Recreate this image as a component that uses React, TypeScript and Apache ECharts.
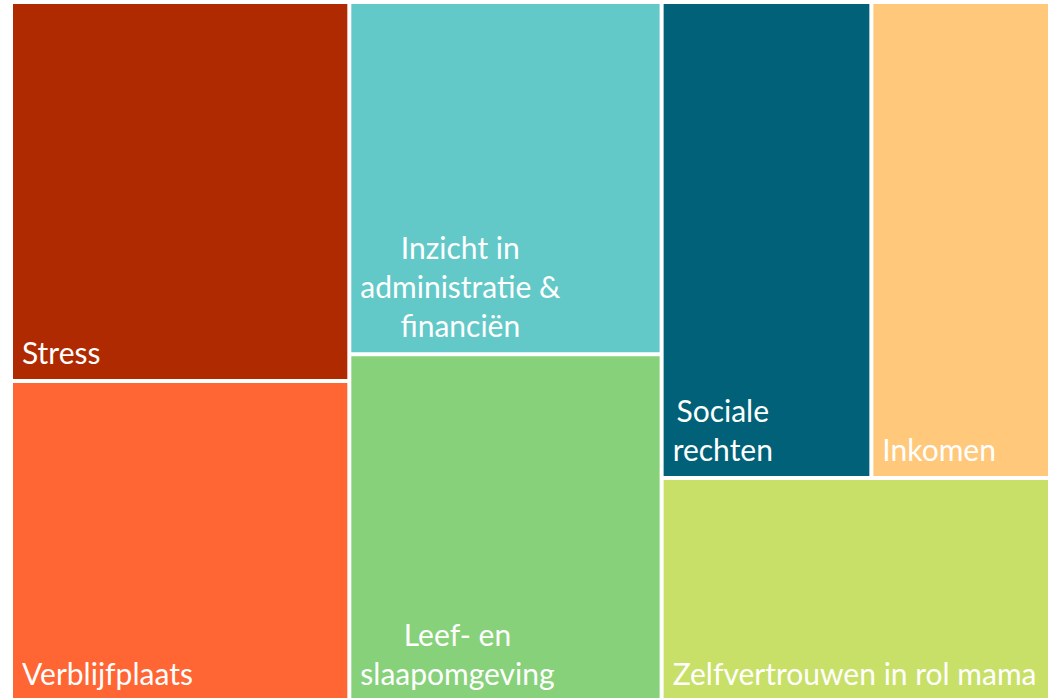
import React, { useEffect, useRef } from "react";
import * as echarts from "echarts";

const names = [
  "Stress",
  "Verblijfplaats",
  "Inzicht in administratie & financiën",
  "Leef- en slaapomgeving",
  "Sociale rechten",
  "Inkomen",
  "Zelfvertrouwen in rol mama",
];
const values = [17.6, 14.9, 15.1, 14.9, 13.7, 11.8, 12.0];
const colors = ["#AF2A00", "#FF6633", "#62C9C8", "#87D17A", "#006178", "#FFC87A", "#C8E068"];
const labelLines = [
  ["Stress"],
  ["Verblijfplaats"],
  ["Inzicht in", "administratie &", "financiën"],
  ["Leef- en", "slaapomgeving"],
  ["Sociale", "rechten"],
  ["Inkomen"],
  ["Zelfvertrouwen in rol mama"],
];

const FONT = "Lato";
const FONT_SIZE = 30;
const LINE_H = 39;

export default function App() {
  const ref = useRef<HTMLDivElement>(null);
  useEffect(() => {
    if (!ref.current) return;
    const chart = echarts.init(ref.current, null, { renderer: "svg" });

    const canvas = document.createElement("canvas");
    const ctx = canvas.getContext("2d") as CanvasRenderingContext2D;
    ctx.font = `${FONT_SIZE}px ${FONT}`;
    const rich: Record<string, any> = {};
    const labelText: Record<string, string> = {};
    labelLines.forEach((lines, i) => {
      const widths = lines.map((l) => ctx.measureText(l).width);
      const maxW = Math.max(...widths);
      labelText[names[i]] = lines
        .map((l, j) => {
          const key = `t${i}x${j}`;
          rich[key] = {
            fontFamily: FONT,
            fontSize: FONT_SIZE,
            lineHeight: LINE_H,
            color: "#fff",
            padding: [0, 0, 0, (maxW - widths[j]) / 2],
          };
          return `{${key}|${l}}`;
        })
        .join("\n");
    });

    chart.setOption({
      animation: false,
      series: [
        {
          type: "treemap",
          left: 11,
          top: 2,
          width: 1041,
          height: 700,
          squareRatio: 1.335,
          sort: false,
          roam: false,
          nodeClick: false,
          silent: true,
          breadcrumb: { show: false },
          itemStyle: { borderWidth: 0, gapWidth: 0, borderColor: "#fff" },
          levels: [
            { itemStyle: { borderWidth: 0, gapWidth: 0 } },
            { itemStyle: { borderWidth: 2, borderColor: "#fff", gapWidth: 0 } },
          ],
          label: {
            show: true,
            position: "insideTopLeft",
            distance: 0,
            padding: 0,
            overflow: "none",
            color: "#fff",
            formatter: (p: any) => labelText[p.name] || p.name,
            rich,
          },
          labelLayout: (p: any) => {
            const n = String(p.text || "").split("\n").length;
            return { dx: 9, dy: p.rect.height - n * LINE_H - 8 };
          },
          data: names.map((n, i) => ({
            name: n,
            value: values[i],
            itemStyle: { color: colors[i] },
          })),
        },
      ],
    });
    return () => chart.dispose();
  }, []);
  return (
    <div
      ref={ref}
      style={{ position: "fixed", left: 0, top: 0, width: 1048, height: 698, background: "#fff" }}
    />
  );
}
